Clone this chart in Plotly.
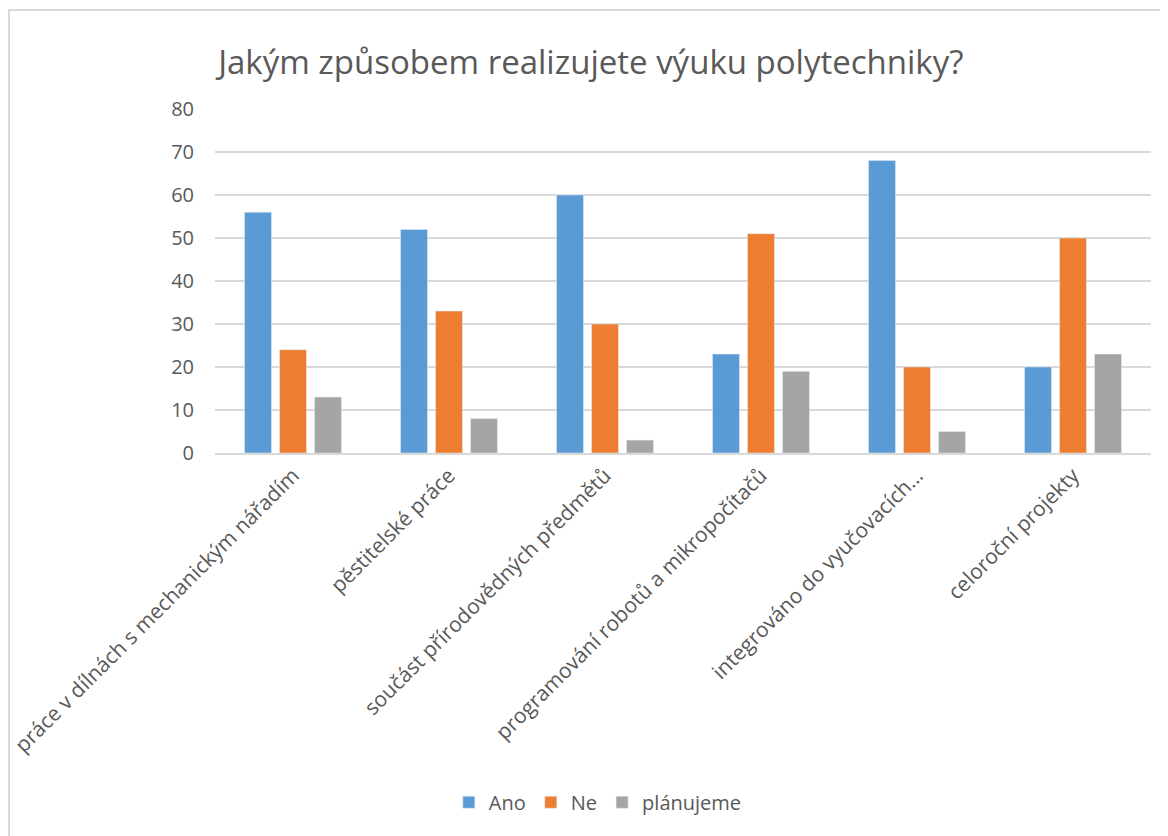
import plotly.graph_objects as go

categories = [
    "práce v dílnách s mechanickým nářadím",
    "pěstitelské práce",
    "součást přírodovědných předmětů",
    "programování robotů a mikropočítačů",
    "integrováno do vyučovacích…",
    "celoroční projekty",
]
ano = [56, 52, 60, 23, 68, 20]
ne = [24, 33, 30, 51, 20, 50]
planujeme = [13, 8, 3, 19, 5, 23]
y_ticks = [0, 10, 20, 30, 40, 50, 60, 70, 80]

FONT = "Open Sans"
TXT = "#595959"

fig = go.Figure()
fig.add_trace(go.Bar(name="Ano", x=categories, y=ano, marker_color="#5B9BD5"))
fig.add_trace(go.Bar(name="Ne", x=categories, y=ne, marker_color="#ED7D31"))
fig.add_trace(go.Bar(name="plánujeme", x=categories, y=planujeme, marker_color="#A5A5A5"))

fig.update_layout(
    width=1168,
    height=836,
    paper_bgcolor="white",
    plot_bgcolor="white",
    barmode="group",
    bargap=0.327,
    bargroupgap=0.23,
    margin=dict(l=207, r=25, t=101, b=391),
    font=dict(family=FONT, color=TXT),
    title=dict(
        text="Jakým způsobem realizujete výuku polytechniky?",
        font=dict(family=FONT, size=33, color=TXT),
        xref="container", x=0.499, xanchor="center",
        yref="container", y=0.935, yanchor="middle",
    ),
    legend=dict(
        orientation="h", xref="container", x=0.505, xanchor="center",
        yref="container", y=0.05, yanchor="middle",
        font=dict(family=FONT, size=20, color=TXT),
        itemwidth=30,
    ),
    xaxis=dict(
        tickangle=-45, tickfont=dict(family=FONT, size=21, color=TXT),
        showline=True, linecolor="#D9D9D9", linewidth=2, ticks="",
        showgrid=False, automargin=False,
    ),
    yaxis=dict(
        range=[0, 80], tickvals=y_ticks, tickfont=dict(family=FONT, size=20, color=TXT),
        showgrid=True, gridcolor="#D9D9D9", gridwidth=1.5, zeroline=False,
        showline=False, ticks="", ticklabelstandoff=20, automargin=False,
    ),
    shapes=[dict(
        type="rect", xref="paper", yref="paper", x0=-0.2201, x1=1.2, y0=-2, y1=1.2878,
        line=dict(color="#D9D9D9", width=2), layer="below",
    )],
)
fig.write_html("out.html")
